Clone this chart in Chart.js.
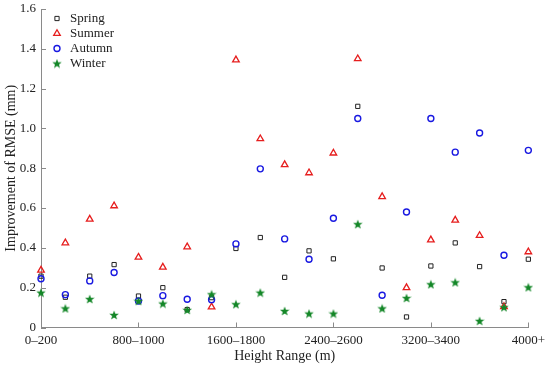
<!DOCTYPE html>
<html>
<head>
<meta charset="utf-8">
<script src="https://cdn.jsdelivr.net/npm/chart.js@4"></script>
<style>
  html, body { margin: 0; padding: 0; background: #fff; }
  #wrap { width: 550px; height: 368px; }
</style>
</head>
<body>
<div id="wrap"><canvas id="chart" width="550" height="368"></canvas></div>
<script>
// height bins (m)
const heightRanges = ['0–200', '200–400', '400–600', '600–800', '800–1000', '1000–1200', '1200–1400',
    '1400–1600', '1600–1800', '1800–2000', '2000–2200', '2200–2400', '2400–2600', '2600–2800',
    '2800–3000', '3000–3200', '3200–3400', '3400–3600', '3600–3800', '3800–4000', '4000+'];

// improvement of RMSE (mm)
const spring = [0.258, 0.152, 0.258, 0.316, 0.158, 0.200, 0.090, 0.150, 0.397, 0.452, 0.252,
    0.385, 0.345, 1.111, 0.299, 0.053, 0.309, 0.425, 0.306, 0.130, 0.343];
const summer = [0.288, 0.425, 0.544, 0.611, 0.353, 0.303, 0.405, 0.103, 1.344, 0.948, 0.818,
    0.777, 0.876, 1.350, 0.657, 0.200, 0.440, 0.539, 0.462, 0.105, 0.380];
const autumn = [0.245, 0.165, 0.234, 0.276, 0.133, 0.160, 0.142, 0.140, 0.420, 0.797, 0.445,
    0.343, 0.549, 1.050, 0.162, 0.580, 1.050, 0.881, 0.977, 0.363, 0.890];
const winter = [0.175, 0.096, 0.143, 0.063, 0.133, 0.120, 0.088, 0.167, 0.117, 0.175, 0.083,
    0.070, 0.070, 0.519, 0.096, 0.148, 0.217, 0.227, 0.033, 0.102, 0.202];

const yTicks = [0, 0.2, 0.4, 0.6, 0.8, 1, 1.2, 1.4, 1.6];

const FONT = "'Liberation Serif', 'Times New Roman', serif";
const GREEN = 'rgb(20,135,40)';

// filled star marker (chart.js 'star' is only stroked)
function makeStar(size, color) {
    const c = document.createElement('canvas');
    c.width = size; c.height = size;
    const g = c.getContext('2d');
    const cx = size / 2, cy = size / 2 + 0.4, R = size / 2, r = R * 0.42;
    g.beginPath();
    for (let i = 0; i < 10; i++) {
        const rad = i % 2 === 0 ? R : r;
        const a = -Math.PI / 2 + i * Math.PI / 5;
        g.lineTo(cx + rad * Math.cos(a), cy + rad * Math.sin(a));
    }
    g.closePath();
    g.fillStyle = color;
    g.fill();
    return c;
}
const starImg = makeStar(10, GREEN);

// inward tick marks like the original plot
const inwardTicks = {
    id: 'inwardTicks',
    afterDatasetsDraw(chart) {
        const ctx = chart.ctx;
        const x = chart.scales.x, y = chart.scales.y;
        const a = chart.chartArea;
        ctx.save();
        ctx.strokeStyle = '#8a8a8a';
        ctx.lineWidth = 1;
        ctx.beginPath();
        yTicks.forEach(v => {
            const py = Math.round(y.getPixelForValue(v)) + 0.5;
            ctx.moveTo(a.left, py);
            ctx.lineTo(a.left + 5, py);
        });
        heightRanges.forEach((lab, i) => {
            if (i % 4 !== 0) return;
            const px = Math.round(x.getPixelForValue(i)) + 0.5;
            ctx.moveTo(px, a.bottom);
            ctx.lineTo(px, a.bottom - 5);
        });
        ctx.stroke();
        ctx.restore();
    }
};

// legend in the upper-left corner of the plot area
const cornerLegend = {
    id: 'cornerLegend',
    afterDraw(chart) {
        const ctx = chart.ctx;
        const a = chart.chartArea;
        ctx.save();
        ctx.font = '13px ' + FONT;
        ctx.textBaseline = 'middle';
        chart.data.datasets.forEach((ds, i) => {
            const cy = a.top + 9.5 + i * 15;
            const mx = a.left + 16;
            ctx.strokeStyle = ds.borderColor;
            ctx.fillStyle = ds.backgroundColor;
            ctx.lineWidth = ds.borderWidth;
            Chart.helpers.drawPoint(ctx, {
                pointStyle: ds.pointStyle, radius: ds.pointRadius, borderWidth: ds.borderWidth, rotation: 0
            }, mx, cy);
            ctx.fillStyle = '#222';
            ctx.fillText(ds.label, a.left + 29, cy);
        });
        ctx.restore();
    }
};

const ctx = document.getElementById('chart').getContext('2d');
new Chart(ctx, {
    type: 'line',
    data: {
        labels: heightRanges,
        datasets: [
            {
                label: 'Spring', data: spring, showLine: false, order: 4,
                pointStyle: 'rect', pointRadius: 3.0, borderWidth: 1,
                borderColor: '#222', backgroundColor: 'rgba(0,0,0,0)'
            },
            {
                label: 'Summer', data: summer, showLine: false, order: 3,
                pointStyle: 'triangle', pointRadius: 3.8, borderWidth: 1.3,
                borderColor: 'rgb(230,30,30)', backgroundColor: 'rgba(0,0,0,0)'
            },
            {
                label: 'Autumn', data: autumn, showLine: false, order: 2,
                pointStyle: 'circle', pointRadius: 3.0, borderWidth: 1.4,
                borderColor: 'rgb(25,25,225)', backgroundColor: 'rgba(0,0,0,0)'
            },
            {
                label: 'Winter', data: winter, showLine: false, order: 1,
                pointStyle: starImg, pointRadius: 5, borderWidth: 1,
                borderColor: GREEN, backgroundColor: GREEN
            }
        ]
    },
    options: {
        responsive: false,
        animation: false,
        layout: { padding: { top: 9, right: 19, left: 0, bottom: 0 } },
        plugins: {
            legend: { display: false },
            tooltip: { enabled: false }
        },
        scales: {
            x: {
                type: 'category',
                offset: false,
                grid: { display: true, drawOnChartArea: false, drawTicks: false },
                border: { display: true, color: '#8a8a8a', width: 1 },
                ticks: {
                    autoSkip: false, maxRotation: 0, padding: 5,
                    color: '#222', font: { family: FONT, size: 13 },
                    callback: function (val, idx) { return idx % 4 === 0 ? this.getLabelForValue(val) : ''; }
                },
                title: {
                    display: true, text: 'Height Range (m)', color: '#222',
                    font: { family: FONT, size: 14 }, padding: { top: 0, bottom: 3 }
                },
                afterFit: s => { s.height = 40.5; }
            },
            y: {
                min: 0, max: 1.6,
                grid: { display: true, drawOnChartArea: false, drawTicks: false },
                border: { display: true, color: '#8a8a8a', width: 1 },
                ticks: {
                    stepSize: 0.2, padding: 5,
                    color: '#222', font: { family: FONT, size: 13 }
                },
                title: {
                    display: true, text: 'Improvement of RMSE (mm)', color: '#222',
                    font: { family: FONT, size: 14 }, padding: { top: 3, bottom: 0 }
                },
                afterFit: s => { s.width = 41; s.paddingTop = 0; s.paddingBottom = 0; }
            }
        }
    },
    plugins: [inwardTicks, cornerLegend]
});
</script>
</body>
</html>
